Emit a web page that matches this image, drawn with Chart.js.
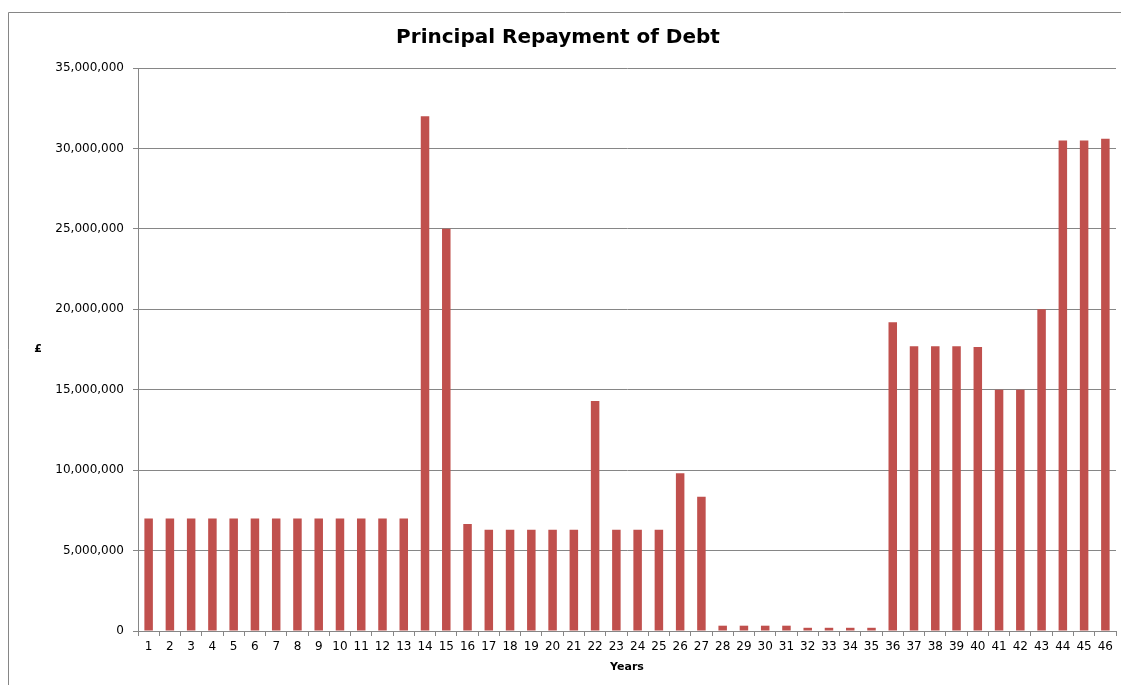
<!DOCTYPE html>
<html>
<head>
<meta charset="utf-8">
<script src="https://cdn.jsdelivr.net/npm/chart.js@4"></script>
<style>
  html, body { margin: 0; padding: 0; background: #fff; }
  #wrap { width: 1121px; height: 685px; }
</style>
</head>
<body>
<div id="wrap"><canvas id="myChart" width="1121" height="685"></canvas></div>
<script>
//! Categories (years)
const years = [];
for (let i = 1; i <= 46; i++) years.push(String(i));

//! Principal repayment per year (£)
const repayment = [
  7000000, 7000000, 7000000, 7000000, 7000000, 7000000, 7000000,
  7000000, 7000000, 7000000, 7000000, 7000000, 7000000,
  32000000, 25000000, 6650000,
  6300000, 6300000, 6300000, 6300000, 6300000,
  14300000, 6300000, 6300000, 6300000, 9800000, 8350000,
  330000, 330000, 330000, 330000,
  200000, 200000, 200000, 200000,
  19200000, 17700000, 17700000, 17700000, 17650000,
  15000000, 15000000, 20000000,
  30500000, 30500000, 30600000
];

//! Texts
const chartTitle = 'Principal Repayment of Debt';
const xTitle = 'Years';
const yTitle = '£';

const axisGrey = '#868686';
const fontFamily = '"DejaVu Sans", Verdana, sans-serif';

//! Outer border + upright y title
const frame = {
  id: 'frame',
  beforeDraw(chart) {
    const c = chart.ctx;
    c.save();
    c.strokeStyle = axisGrey;
    c.lineWidth = 1;
    c.beginPath();
    c.moveTo(8.5, 700);
    c.lineTo(8.5, 12.5);
    c.lineTo(1125, 12.5);
    c.stroke();
    c.restore();
  },
  afterDraw(chart) {
    const c = chart.ctx;
    const area = chart.chartArea;
    c.save();
    c.fillStyle = '#000';
    c.font = 'bold 11px ' + fontFamily;
    c.textAlign = 'center';
    c.textBaseline = 'middle';
    c.fillText(yTitle, 38, (area.top + area.bottom) / 2);
    c.restore();
  }
};

const ctx = document.getElementById('myChart').getContext('2d');

const myChart = new Chart(ctx, {
  type: 'bar',
  data: {
    labels: years,
    datasets: [{
      label: 'Principal',
      data: repayment,
      backgroundColor: '#C0504D',
      borderWidth: 0,
      categoryPercentage: 1.0,
      barPercentage: 0.4
    }]
  },
  options: {
    responsive: false,
    animation: false,
    layout: { padding: { top: 12, left: 0, right: 5, bottom: 0 } },
    plugins: {
      legend: { display: false },
      tooltip: { enabled: false },
      title: {
        display: true,
        text: chartTitle,
        color: '#000',
        font: { family: fontFamily, size: 20, weight: 'bold', lineHeight: 1.2 },
        padding: { top: 14, bottom: 18 }
      }
    },
    scales: {
      x: {
        offset: true,
        grid: {
          offset: true,
          drawOnChartArea: false,
          drawTicks: true,
          tickLength: 5,
          color: axisGrey
        },
        border: { display: true, color: axisGrey },
        ticks: {
          color: '#000',
          autoSkip: false,
          maxRotation: 0,
          padding: 4,
          font: { family: fontFamily, size: 12 }
        },
        title: {
          display: true,
          text: xTitle,
          color: '#000',
          font: { family: fontFamily, size: 11, weight: 'bold', lineHeight: 1.2 },
          padding: { top: 0, bottom: 11 }
        },
        afterFit(scale) { scale.height = 54; }
      },
      y: {
        min: 0,
        max: 35000000,
        grid: {
          color: axisGrey,
          drawTicks: true,
          tickLength: 5
        },
        border: { display: true, color: axisGrey },
        ticks: {
          stepSize: 5000000,
          color: '#000',
          padding: 9,
          font: { family: fontFamily, size: 12 },
          callback: (v) => v.toLocaleString('en-GB')
        },
        afterFit(scale) { scale.width = 138; }
      }
    }
  },
  plugins: [frame]
});
</script>
</body>
</html>
